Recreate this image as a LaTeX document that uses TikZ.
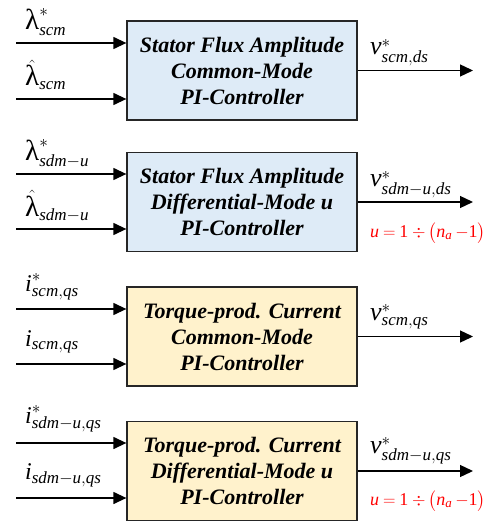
\documentclass[tikz,border=0pt]{standalone}
\usepackage{amsmath}
\usepackage{fontspec}
\setmainfont{Liberation Serif}
\usetikzlibrary{arrows.meta}
\DeclareMathSizes{22}{22}{17}{13}
\DeclareMathSizes{18}{18}{13}{10}
\definecolor{fluxblue}{HTML}{DEEBF7}
\definecolor{torqueyellow}{HTML}{FFF2CC}
\newcommand{\itx}[1]{\text{\itshape #1}}
\newcommand{\lam}{\text{\fontsize{29}{30}\selectfont λ}}
\newcommand{\volt}{\text{\fontsize{26}{28}\selectfont\itshape v}}
\newcommand{\cur}{\text{\fontsize{24}{28}\selectfont\itshape i}}
\newcommand{\urange}{$\itx{u}\mkern4mu{=}\mkern4mu\text{1}\mkern4mu{\div}\mkern3mu\big(\itx{n}_{\itx{a}}\mkern3mu{-}\text{1}\big)$}
\tikzset{
  blk/.style={draw=black!85,line width=1.3pt,minimum width=230pt,minimum height=99pt,
    align=center,font=\fontsize{22}{26}\selectfont\bfseries\itshape},
  sig/.style={line width=1.3pt,-{Triangle[length=13pt,width=12pt]}},
  lbl/.style={anchor=base west,inner sep=0pt,font=\fontsize{22}{26}\selectfont},
  note/.style={anchor=base west,inner sep=0pt,red,font=\fontsize{18}{22}\selectfont}
}
\begin{document}
\begin{tikzpicture}[x=1pt,y=-1pt]
  \useasboundingbox (0,0) rectangle (492,521);
  % blocks
  \node[blk,fill=fluxblue] (b1) at (242,70.5) {Stator Flux Amplitude\\Common-Mode\\PI-Controller};
  \node[blk,fill=fluxblue] (b2) at (242,202) {Stator Flux Amplitude\\Differential-Mode u\\PI-Controller};
  \node[blk,fill=torqueyellow] (b3) at (242,336.5) {Torque-prod. Current\\Common-Mode\\PI-Controller};
  \node[blk,fill=torqueyellow] (b4) at (242,471) {Torque-prod. Current\\Differential-Mode u\\PI-Controller};
  % free ends
  \coordinate (in1a) at (16,43);  \coordinate (in1b) at (16,99);
  \coordinate (in2a) at (16,174); \coordinate (in2b) at (16,229);
  \coordinate (in3a) at (16,309); \coordinate (in3b) at (16,364);
  \coordinate (in4a) at (16,443); \coordinate (in4b) at (16,498);
  \coordinate (out1) at (473,70.5); \coordinate (out2) at (473,202);
  \coordinate (out3) at (473,336.5); \coordinate (out4) at (473,471);
  % connectors
  \draw[sig] (in1a) -- (b1.west |- in1a);
  \draw[sig] (in1b) -- (b1.west |- in1b);
  \draw[sig] (in2a) -- (b2.west |- in2a);
  \draw[sig] (in2b) -- (b2.west |- in2b);
  \draw[sig] (in3a) -- (b3.west |- in3a);
  \draw[sig] (in3b) -- (b3.west |- in3b);
  \draw[sig] (in4a) -- (b4.west |- in4a);
  \draw[sig] (in4b) -- (b4.west |- in4b);
  \draw[sig] (b1.east) -- (out1);
  \draw[sig] (b2.east) -- (out2);
  \draw[sig] (b3.east) -- (out3);
  \draw[sig] (b4.east) -- (out4);
  % input labels
  \node[lbl] (l1a) at (25,30)  {$\lam^{*}_{\itx{scm}}$};
  \node[lbl] (l1b) at (25,86)  {$\hat{\lam}_{\itx{scm}}$};
  \node[lbl] (l2a) at (25,161) {$\lam^{*}_{\itx{sdm}-\itx{u}}$};
  \node[lbl] (l2b) at (25,216) {$\hat{\lam}_{\itx{sdm}-\itx{u}}$};
  \node[lbl] (l3a) at (25,291) {$\cur^{*}_{\itx{scm},\itx{qs}}$};
  \node[lbl] (l3b) at (25,346) {$\cur_{\itx{scm},\itx{qs}}$};
  \node[lbl] (l4a) at (25,423) {$\cur^{*}_{\itx{sdm}-\itx{u},\itx{qs}}$};
  \node[lbl] (l4b) at (25,479) {$\cur_{\itx{sdm}-\itx{u},\itx{qs}}$};
  % output labels
  \node[lbl] (o1) at (370,55)  {$\volt^{*}_{\itx{scm},\itx{ds}}$};
  \node[lbl] (o2) at (370,187) {$\volt^{*}_{\itx{sdm}-\itx{u},\itx{ds}}$};
  \node[lbl] (o3) at (370,320) {$\volt^{*}_{\itx{scm},\itx{qs}}$};
  \node[lbl] (o4) at (370,453) {$\volt^{*}_{\itx{sdm}-\itx{u},\itx{qs}}$};
  \node[note] (n2) at (370,237) {\urange};
  \node[note] (n4) at (370,505) {\urange};
\end{tikzpicture}
\end{document}
